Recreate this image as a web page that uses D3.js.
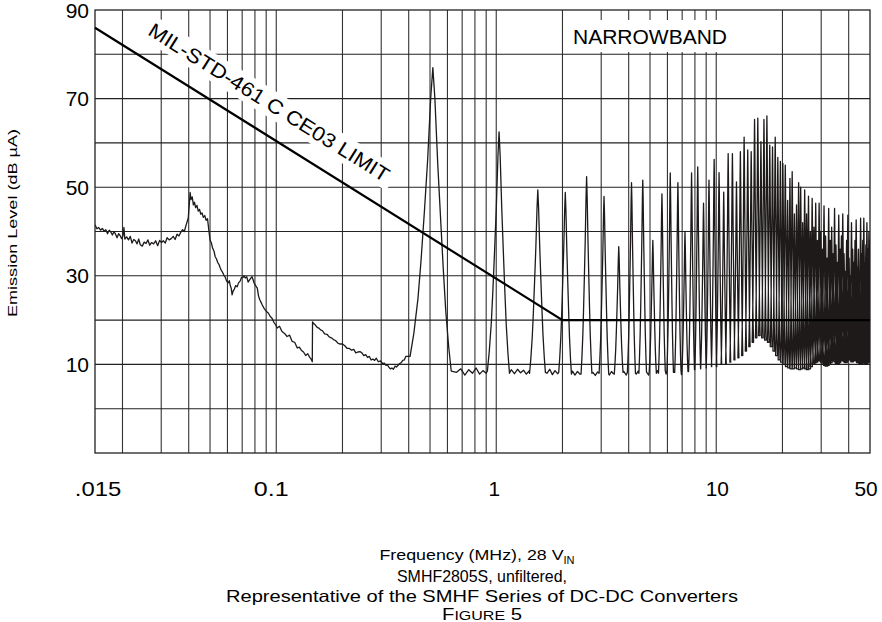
<!DOCTYPE html>
<html><head><meta charset="utf-8">
<script src="https://cdn.jsdelivr.net/npm/d3@7"></script>
<style>body{margin:0;background:#fff}svg{display:block}</style>
</head><body>
<svg id="chart" width="882" height="622"></svg>
<script>
// ---------------- DATA ----------------
const xTickValues = [0.015, 0.1, 1, 10, 50];
const xTickLabels = [".015", "0.1", "1", "10", "50"];
const xGridValues = [0.02,0.03,0.04,0.05,0.06,0.07,0.08,0.09,0.1,0.2,0.3,0.4,0.5,0.6,0.7,0.8,0.9,1,2,3,4,5,6,7,8,9,10,20,30,40];
const yTickValues = [10, 30, 50, 70, 90];
const yGridValues = [0, 10, 20, 30, 40, 50, 60, 70, 80];

// broadband part of the trace (MHz, dBµA)
const broadbandMHz = [0.0150,0.0153,0.0156,0.0159,0.0162,0.0165,0.0168,0.0171,0.0174,0.0177,0.0180,0.0183,0.0186,0.0189,0.0192,0.0195,0.0198,0.0201,0.0203,0.0205,0.0209,0.0213,0.0217,0.0221,0.0225,0.0229,0.0233,0.0237,0.0241,0.0246,0.0251,0.0256,0.0261,0.0266,0.0271,0.0277,0.0283,0.0289,0.0295,0.0301,0.0307,0.0313,0.0319,0.0326,0.0333,0.0340,0.0347,0.0354,0.0361,0.0368,0.0375,0.0382,0.0390,0.0398,0.0403,0.0406,0.0410,0.0415,0.0420,0.0425,0.0430,0.0436,0.0442,0.0448,0.0454,0.0460,0.0466,0.0473,0.0480,0.0487,0.0493,0.0500,0.0507,0.0514,0.0521,0.0528,0.0535,0.0542,0.0549,0.0556,0.0563,0.0570,0.0578,0.0585,0.0595,0.0605,0.0612,0.0618,0.0624,0.0630,0.0637,0.0645,0.0654,0.0664,0.0674,0.0685,0.0695,0.0705,0.0714,0.0723,0.0734,0.0745,0.0755,0.0765,0.0776,0.0786,0.0793,0.0800,0.0810,0.0820,0.0831,0.0842,0.0853,0.0864,0.0882,0.0900,0.0920,0.0939,0.0957,0.0975,0.0993,0.1010,0.1035,0.1060,0.1090,0.1120,0.1150,0.1180,0.1213,0.1246,0.1273,0.1300,0.1330,0.1360,0.1390,0.1420,0.1440,0.1458,0.1462,0.1480,0.1500,0.1530,0.1560,0.1590,0.1620,0.1660,0.1700,0.1740,0.1780,0.1820,0.1860,0.1905,0.1950,0.2000,0.2050,0.2100,0.2150,0.2200,0.2250,0.2300,0.2350,0.2400,0.2450,0.2500,0.2550,0.2600,0.2650,0.2700,0.2750,0.2800,0.2850,0.2910,0.2975,0.3040,0.3100,0.3150,0.3200,0.3250,0.3300,0.3355,0.3410,0.3465,0.3520,0.3580,0.3640,0.3700,0.3760,0.3820,0.3880];
const broadbandDb  = [41.5,40.6,40.9,40.3,40.7,40.1,40.4,39.5,40.3,39.9,39.2,40.0,39.4,38.6,39.5,39.1,38.4,39.0,40.9,38.3,38.8,38.1,38.9,37.4,38.2,37.9,37.2,38.3,37.0,36.7,37.6,37.3,38.1,36.9,37.5,37.2,37.9,36.8,38.0,37.5,37.9,37.4,38.6,38.1,38.4,38.9,38.2,39.4,39.0,39.8,40.4,40.0,41.6,43.0,46.5,48.8,47.2,47.8,46.0,46.6,45.4,45.9,44.6,45.0,43.9,44.2,43.2,43.6,42.5,42.9,40.6,38.1,37.4,36.2,35.6,34.3,33.8,33.0,32.6,31.8,31.2,30.8,30.1,29.8,28.8,28.4,28.9,27.8,27.2,25.7,26.6,27.0,27.8,27.5,28.4,28.8,29.6,29.6,30.0,29.5,29.8,28.6,29.0,29.4,29.8,29.0,28.4,28.0,27.6,27.2,25.4,24.6,24.0,23.4,22.6,22.0,21.6,20.8,20.4,19.5,19.0,18.2,18.6,17.5,17.0,16.3,16.6,15.2,15.0,13.7,13.9,13.2,12.8,12.0,12.4,11.6,11.2,10.6,19.6,19.2,19.0,18.4,18.2,17.8,17.6,16.9,16.8,16.2,16.0,15.6,15.4,14.8,14.6,14.6,14.2,13.6,13.6,13.2,13.4,12.6,12.8,12.9,12.6,12.0,12.2,11.6,11.8,11.0,11.2,10.9,11.4,10.6,10.8,10.2,10.3,9.8,9.9,9.4,9.0,9.2,8.9,9.6,9.4,9.8,10.2,10.4,10.9,11.0,11.8];

// narrowband harmonic spikes: centre frequency (MHz), peak level, valley level after the spike
const harmonicMHz = [0.515,1.03,1.545,2.06,2.575,3.09,3.605,4.12,4.635,5.15,5.665,6.18,6.695,7.21,7.725,8.24,8.755,9.27,9.785,10.3,10.815,11.33,11.845,12.36,12.875,13.39,13.905,14.42,14.935,15.45,15.965,16.48,16.995,17.51,18.025,18.54,19.055,19.57,20.085,20.6,21.115,21.63,22.145,22.66,23.175,23.69,24.205,24.72,25.235,25.75,26.265,26.78,27.295,27.81,28.325,28.84,29.355,29.87,30.385,30.9,31.415,31.93,32.445,32.96,33.475,33.99,34.505,35.02,35.535,36.05,36.565,37.08,37.595,38.11,38.625,39.14,39.655,40.17,40.685,41.2,41.715,42.23,42.745,43.26,43.775,44.29,44.805,45.32,45.835,46.35,46.865,47.38,47.895,48.41,48.925,49.44,49.955];
const harmonicPeakDb = [77,62.5,49.4,48.8,52.4,47.9,36.6,51,51.6,38,48.5,53.2,51,40,53.2,54.6,46.4,51.6,56.3,53.3,48.9,57.6,57.6,51.2,58,61.3,58.4,58,65.3,65.6,60.3,65.3,66.1,59.5,59.1,61.3,56.7,55.8,55.4,55,47,52,53.5,44,46,51,50,42,49.4,44,48,40,47.5,41,46.4,38,46.4,40,36,45.8,39,34,45.2,38,41,35,45.2,37,33,43.7,36,39,44,35,31,38,43.7,34,30,42,36,33,38,42.6,32,36,30,43,35,38,43,33,37,42,36,40,38];
const harmonicValleyDb = [8.5,8,8.2,7.8,8,7.8,8.2,8,8.3,8,8.5,8.2,8.6,8.4,8.8,9,9.2,9.5,9.5,10,10,10.5,11,11.5,12,13,14,15,16,16.5,16,15.5,15,14,13,12,11,10.5,10,9.5,9.2,9,9,9.2,9,8.8,9,9.2,9,8.8,9,9.5,10,10.3,10.5,10.8,11,10.5,10,9.8,9.6,9.8,10,10.4,10.8,11,10.6,10.2,10,10.4,10.8,11.2,11,10.6,10.4,10.8,11,11.4,11,10.6,10.8,11,11.2,10.8,10.4,10.6,10.2,10,10.4,10.8,10.6,10.2,10,10.4,10.6,11,11];
// noise floor readings between the lower harmonics (MHz, dBµA)
const floorMHz = [0.66,0.69,0.72,0.75,0.78,0.81,0.84,0.87,0.90,1.17,1.21,1.25,1.29,1.33,1.37,1.41,1.70,1.75,1.80,1.85,1.90,2.22,2.28,2.34,2.40,2.75,2.82,2.89,3.27,3.34,3.41,3.80,3.90,4.33,4.42,4.85,4.93,5.40,5.92,6.43,6.95];
const floorDb  = [8.2,9.0,7.6,8.8,8.0,9.2,7.8,8.6,8.0,8.8,7.9,8.9,8.1,8.7,7.8,8.5,8.0,8.9,7.7,8.6,7.9,8.5,7.6,8.4,7.8,8.2,7.5,8.3,7.6,8.4,7.9,8.4,7.6,7.8,8.5,8.1,7.6,8.6,7.8,8.3,7.7];

// MIL-STD-461C CE03 narrowband limit
const limitMHz = [0.015, 2, 50];
const limitDb = [86, 20, 20];
const limitLabel = "MIL-STD-461 C CE03 LIMIT";
const limitLabelMHz = 0.079;
const bandLabel = "NARROWBAND";
const yTitle = "Emission Level (dB µA)";

// ---------------- CHART ----------------
const svg = d3.select("#chart");
const L = 95, R = 870, T = 10, B = 453;
const x = d3.scaleLog().domain([0.015, 50]).range([L, R]);
const y = d3.scaleLinear().domain([-10, 90]).range([B, T]);
const font = "'Liberation Sans', Arial, sans-serif";
// spike drawing style: half width grows with frequency, bell-like profile
const spikeHalfWidth = f => 0.1 + 0.018 * f;
const spikeProfile = [[-1,0],[-0.85,0.08],[-0.68,0.2],[-0.55,0.33],[-0.4,0.5],[-0.25,0.68],[-0.1,0.9],[0,1],[0.1,0.9],[0.25,0.68],[0.4,0.5],[0.55,0.33],[0.68,0.2],[0.85,0.08],[1,0]];
const xTickDx = [3, -5, -2, 1, -4];

svg.append("rect").attr("width", 882).attr("height", 622).attr("fill", "#fff");

// grid
const g = svg.append("g");
g.selectAll("line.vg").data(xGridValues).join("line")
  .attr("x1", d => x(d)).attr("x2", d => x(d)).attr("y1", T).attr("y2", B)
  .attr("stroke", "#333").attr("stroke-width", 1.1);
g.selectAll("line.hg").data(yGridValues).join("line")
  .attr("x1", L).attr("x2", R).attr("y1", d => y(d)).attr("y2", d => y(d))
  .attr("stroke", "#222").attr("stroke-width", 1.1);

// limit line geometry (for rotated label)
const p0 = [x(limitMHz[0]), y(limitDb[0])], p1 = [x(limitMHz[1]), y(limitDb[1])];
const ang = Math.atan2(p1[1] - p0[1], p1[0] - p0[0]) * 180 / Math.PI;
const lx = x(limitLabelMHz);
const ly = p0[1] + (lx - p0[0]) * (p1[1] - p0[1]) / (p1[0] - p0[0]);

// white boxes behind labels
const lab = svg.append("g").attr("transform", `translate(${lx},${ly}) rotate(${ang})`);
lab.append("rect").attr("x", -146).attr("y", -42).attr("width", 292).attr("height", 26).attr("fill", "#fff");
svg.append("rect").attr("x", 566).attr("y", 20).attr("width", 156).attr("height", 32).attr("fill", "#fff");

// frame
svg.append("rect").attr("x", L).attr("y", T).attr("width", R - L).attr("height", B - T)
  .attr("fill", "none").attr("stroke", "#222").attr("stroke-width", 1.3);

// trace: broadband, then floor readings and harmonic spikes in frequency order
const pts = broadbandMHz.map((f, i) => [f, broadbandDb[i]]);
const floorPts = floorMHz.map((f, i) => [f, floorDb[i]]);
let fi = 0;
let prevValley = broadbandDb[broadbandDb.length - 1];
harmonicMHz.forEach((f, i) => {
  while (fi < floorPts.length && floorPts[fi][0] < f) pts.push(floorPts[fi++]);
  const pk = harmonicPeakDb[i], vR = harmonicValleyDb[i], hw = spikeHalfWidth(f);
  spikeProfile.forEach(([o, r]) => {
    const base = o < 0 ? prevValley : vR;
    pts.push([f + o * hw, base + r * (pk - base)]);
  });
  prevValley = vR;
});

svg.append("clipPath").attr("id", "clip").append("rect")
  .attr("x", L).attr("y", T).attr("width", R - L).attr("height", B - T);
const line = d3.line().defined(d => isFinite(d[0]) && isFinite(d[1])).x(d => x(d[0])).y(d => y(d[1]));
svg.append("path").datum(pts).attr("clip-path", "url(#clip)")
  .attr("d", line).attr("fill", "none").attr("stroke", "#1e1a1a").attr("stroke-width", 1.3)
  .attr("stroke-linejoin", "round");

// limit line
svg.append("path").datum(limitMHz.map((f, i) => [f, limitDb[i]]))
  .attr("d", line).attr("fill", "none").attr("stroke", "#000").attr("stroke-width", 2.2);

// limit label
lab.append("text").attr("x", 0).attr("y", -22).attr("text-anchor", "middle")
  .attr("font-family", font).attr("font-size", 20)
  .attr("textLength", 280).attr("lengthAdjust", "spacingAndGlyphs")
  .text(limitLabel);

// narrowband label
svg.append("text").attr("x", 650).attr("y", 44).attr("text-anchor", "middle")
  .attr("font-family", font).attr("font-size", 21).text(bandLabel);

// tick labels
svg.selectAll("text.yt").data(yTickValues).join("text")
  .attr("x", 89).attr("y", d => y(d)).attr("dy", "0.36em").attr("text-anchor", "end")
  .attr("font-family", font).attr("font-size", 21).text(d => d);
svg.selectAll("text.xt").data(xTickValues).join("text")
  .attr("x", (d, i) => x(d) + xTickDx[i]).attr("y", 496).attr("text-anchor", "middle")
  .attr("font-family", font).attr("font-size", 21)
  .attr("textLength", (d, i) => xTickLabels[i].length * 11.6).attr("lengthAdjust", "spacingAndGlyphs")
  .text((d, i) => xTickLabels[i]);

// axis title (y)
svg.append("text").attr("transform", "translate(17,223) rotate(-90)").attr("text-anchor", "middle")
  .attr("font-family", font).attr("font-size", 13.5)
  .attr("textLength", 188).attr("lengthAdjust", "spacingAndGlyphs").text(yTitle);

// captions
const t1 = svg.append("text").attr("x", 477).attr("y", 560).attr("text-anchor", "middle")
  .attr("font-family", font).attr("font-size", 15);
t1.append("tspan").attr("textLength", 184).attr("lengthAdjust", "spacingAndGlyphs").text("Frequency (MHz), 28 V");
t1.append("tspan").attr("font-size", 11).attr("dy", 4).text("IN");
svg.append("text").attr("x", 482).attr("y", 582).attr("text-anchor", "middle")
  .attr("font-family", font).attr("font-size", 16.5)
  .attr("textLength", 170).attr("lengthAdjust", "spacingAndGlyphs").text("SMHF2805S, unfiltered,");
svg.append("text").attr("x", 482).attr("y", 602).attr("text-anchor", "middle")
  .attr("font-family", font).attr("font-size", 16.5)
  .attr("textLength", 512).attr("lengthAdjust", "spacingAndGlyphs").text("Representative of the SMHF Series of DC-DC Converters");
const t4 = svg.append("text").attr("x", 482).attr("y", 620).attr("text-anchor", "middle")
  .attr("font-family", font).attr("font-size", 16.5)
  .attr("textLength", 80).attr("lengthAdjust", "spacingAndGlyphs");
t4.append("tspan").text("F");
t4.append("tspan").attr("font-size", 13).text("IGURE");
t4.append("tspan").text(" 5");
</script>
</body></html>
